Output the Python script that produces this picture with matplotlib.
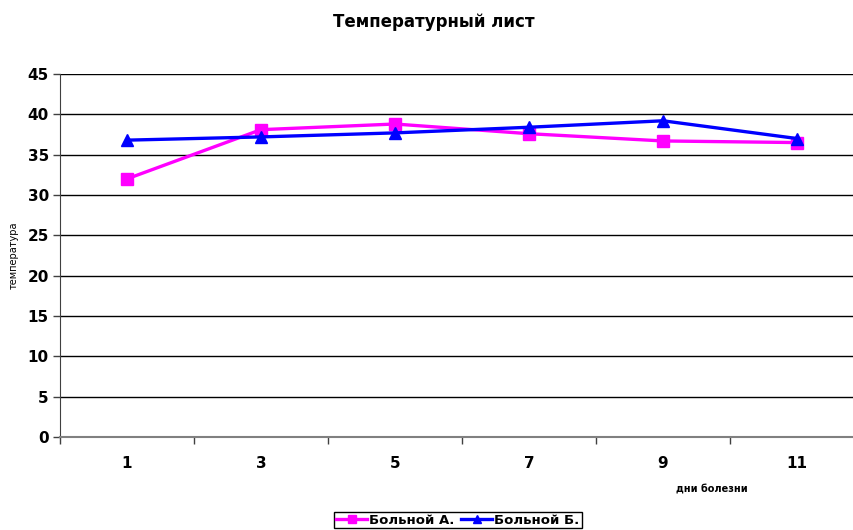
import matplotlib.pyplot as plt
import numpy as np
from matplotlib.ticker import FixedLocator

days = ['1', '3', '5', '7', '9', '11']
patient_a = [32.0, 38.1, 38.8, 37.6, 36.7, 36.5]
patient_b = [36.8, 37.2, 37.7, 38.4, 39.2, 37.0]
y_ticks = [0, 5, 10, 15, 20, 25, 30, 35, 40, 45]

plt.rcParams['font.family'] = ['DejaVu Sans']

fig = plt.figure(figsize=(8.54, 5.30), dpi=100)
# plot area runs past the right edge of the picture, as in the reference
ax = fig.add_axes([60 / 854, (530 - 437) / 530, 804 / 854, 363 / 530])

x = np.arange(len(days))
ax.plot(x, patient_a, color='#FF00FF', lw=2.4, marker='s', ms=8,
        label='Больной А.', clip_on=False, zorder=3)
ax.plot(x, patient_b, color='#0000FF', lw=2.4, marker='^', ms=8,
        label='Больной Б.', clip_on=False, zorder=4)

ax.set_xlim(-0.5, len(days) - 0.5)
ax.set_ylim(0, 45)
ax.set_yticks(y_ticks)
ax.set_yticklabels([str(v) for v in y_ticks], fontsize=11, fontweight='bold')
ax.set_xticks(x)
ax.set_xticklabels(days, fontsize=11, fontweight='bold')
ax.xaxis.set_minor_locator(FixedLocator(np.arange(-0.5, len(days), 1.0)))
ax.tick_params(axis='x', which='major', length=0, pad=14)
ax.tick_params(axis='x', which='minor', length=5, width=1, color='#404040', direction='out')
ax.tick_params(axis='y', length=5, width=1, color='#404040', direction='out', pad=3)

ax.grid(axis='y', color='black', lw=1)
ax.set_axisbelow(True)
for side in ['top', 'right']:
    ax.spines[side].set_visible(False)
ax.spines['left'].set_color('#404040')
ax.spines['bottom'].set_color('#808080')
ax.spines['bottom'].set_linewidth(1.5)

fig.text(434 / 854, 1 - 22 / 530, 'Температурный лист', ha='center', va='center',
         fontsize=12, fontweight='bold')
fig.text(14 / 854, 1 - 255 / 530, 'температура', rotation=90, ha='center', va='center',
         fontsize=7)
fig.text(712 / 854, 1 - 490 / 530, 'дни болезни', ha='center', va='center',
         fontsize=7, fontweight='bold')

leg = fig.legend(loc='center', bbox_to_anchor=(458 / 854, 1 - 520 / 530), ncol=2,
                 frameon=True, fancybox=False, edgecolor='black', framealpha=1,
                 prop={'weight': 'bold', 'size': 9.5}, handlelength=2.3,
                 markerscale=0.75, handletextpad=0.2, columnspacing=0.5,
                 borderpad=0.15, borderaxespad=0)
leg.get_frame().set_linewidth(1)

fig.savefig('out.png', dpi=100)
